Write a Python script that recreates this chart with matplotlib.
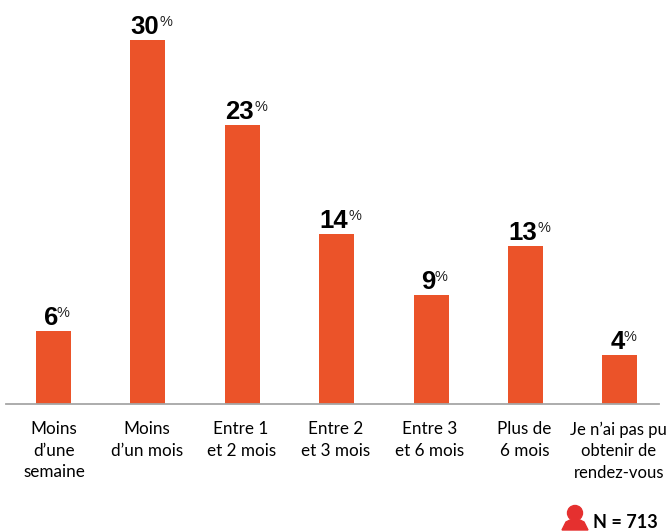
import matplotlib
matplotlib.use("Agg")
from matplotlib import pyplot as plt
from matplotlib.patches import Circle, Polygon

categories = ["Moins\nd\u2019une\nsemaine", "Moins\nd\u2019un mois", "Entre 1\net 2 mois", "Entre 2\net 3 mois",
              "Entre 3\net 6 mois", "Plus de\n6 mois", "Je n\u2019ai pas pu\nobtenir de\nrendez-vous"]
values = [6, 30, 23, 14, 9, 13, 4]

plt.rcParams['font.family'] = ['Lato', 'DejaVu Sans']
W, H = 669, 531
orange = '#EB5329'
red = '#E5302F'

fig = plt.figure(figsize=(W / 100, H / 100), dpi=100)
ax = fig.add_axes([0, 0, 1, 1])
ax.set_xlim(0, W)
ax.set_ylim(H, 0)
ax.axis('off')

# baseline sits at y=404, 12.15 px per percent
base = 404
scale = 12.15
x0 = 53.2
step = 94.45

ax.plot([6, 659], [base, base], color='#a6a6a6', lw=1.3)
for i, (cat, val) in enumerate(zip(categories, values)):
    x = x0 + i * step
    top = base - val * scale
    ax.bar(x, val * scale, width=35, bottom=top, color=orange)
    ax.text(x - 2.5, top - 6, str(val), ha='center', va='baseline', fontsize=18.5, fontweight='bold',
            family='Liberation Sans', color='black')
    pct_x = x + (12 if val >= 10 else 3.5)
    ax.text(pct_x, top - 14, '%', ha='left', va='baseline', fontsize=10.5,
            family='Liberation Sans', color='#222222')
    fs = 12 if i == 6 else 12.3
    ax.text(x + (1 if i == 0 else -1), 421.5, cat, ha='center', va='top', fontsize=fs, color='black',
            linespacing=1.42)

# person icon next to the sample size
ax.add_patch(Circle((575, 513), 7.5, color=red))
ax.add_patch(Polygon([(562, 530), (566, 522), (570, 520), (580, 520), (584, 522), (588, 530)], color=red))
ax.text(593, 523, 'N = 713', ha='left', va='center', fontsize=13, fontweight='bold', color='black')

fig.savefig('out.png', dpi=100)
